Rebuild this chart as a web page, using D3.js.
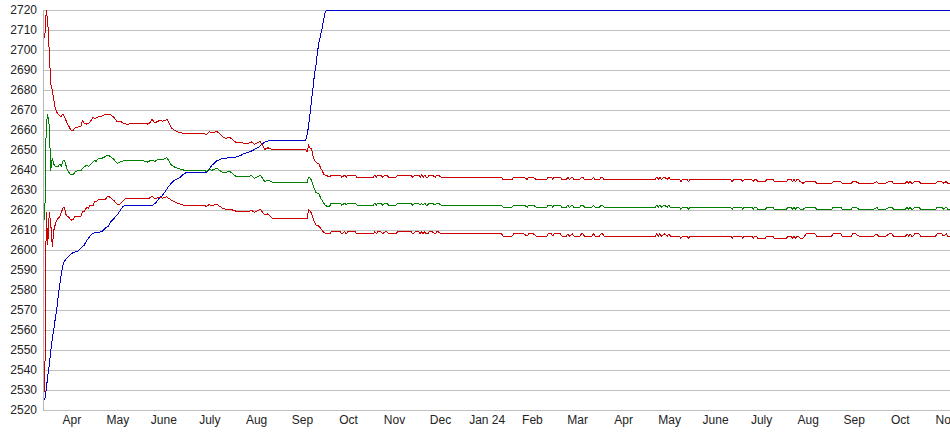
<!DOCTYPE html>
<html>
<head>
<meta charset="utf-8">
<script src="https://cdn.jsdelivr.net/npm/d3@7/dist/d3.min.js"></script>
<style>
  html, body { margin: 0; padding: 0; background: #ffffff; }
  svg { display: block; }
  text { font-family: "Liberation Sans", Arial, sans-serif; font-size: 12px; fill: #222; }
</style>
</head>
<body>
<svg id="chart" width="950" height="435"></svg>
<script>
// ---------------- DATA ----------------
const yTicks = [2520,2530,2540,2550,2560,2570,2580,2590,2600,2610,2620,2630,2640,2650,2660,2670,2680,2690,2700,2710,2720];

const monthStarts = ["2023-04-01","2023-05-01","2023-06-01","2023-07-01","2023-08-01","2023-09-01","2023-10-01","2023-11-01","2023-12-01","2024-01-01",
                     "2024-02-01","2024-03-01","2024-04-01","2024-05-01","2024-06-01","2024-07-01","2024-08-01","2024-09-01","2024-10-01","2024-11-01"];
const monthLabels = ["Apr","May","June","July","Aug","Sep","Oct","Nov","Dec","Jan 24",
                     "Feb","Mar","Apr","May","June","July","Aug","Sep","Oct","Nov"];

const blueDates = [
 "2023-03-29","2023-03-30","2023-03-31","2023-04-01","2023-04-02","2023-04-03","2023-04-04","2023-04-05","2023-04-06","2023-04-07",
 "2023-04-08","2023-04-09","2023-04-10","2023-04-11","2023-04-12","2023-04-14","2023-04-16","2023-04-18","2023-04-20","2023-04-22",
 "2023-04-24","2023-04-26","2023-04-28","2023-04-30","2023-05-02","2023-05-04","2023-05-06","2023-05-08","2023-05-10","2023-05-12",
 "2023-05-14","2023-05-16","2023-05-18","2023-05-20","2023-05-22","2023-06-09","2023-06-10","2023-06-11","2023-06-13","2023-06-15",
 "2023-06-17","2023-06-19","2023-06-21","2023-06-23","2023-06-25","2023-06-27","2023-06-29","2023-07-01","2023-07-14","2023-07-16",
 "2023-07-18","2023-07-21","2023-07-23","2023-07-25","2023-07-27","2023-07-30","2023-08-03","2023-08-06","2023-08-08","2023-08-11",
 "2023-08-13","2023-08-15","2023-08-18","2023-08-20","2023-08-22","2023-08-24","2023-09-18","2023-09-19","2023-09-20","2023-09-21",
 "2023-09-22","2023-09-23","2023-09-24","2023-09-25","2023-09-26","2023-09-27","2023-09-28","2023-09-29","2023-09-30","2023-10-01",
 "2023-10-02","2024-11-23"];
const blueValues = [
 2525.2,2530.5,2537.5,2542.5,2550,2556,2560.5,2566,2570.5,2577.5,
 2583,2588.5,2592.5,2594.4,2595.5,2597,2598.5,2599.2,2599.5,2601.2,
 2602.4,2605,2607.1,2608.5,2609,2609,2609.5,2611,2611.9,2614.5,
 2616,2617.6,2619.8,2622,2622.6,2622.6,2623.4,2624,2626,2627.4,
 2629.5,2631.8,2633.5,2635,2635.7,2636.6,2638,2638.9,2638.9,2640.5,
 2642.5,2644.6,2645.3,2646,2646,2646.3,2646.6,2647.3,2648.3,2649,
 2649.5,2650.3,2651.6,2653,2654,2654.6,2654.6,2657.5,2662,2668.4,
 2675,2681.4,2688.5,2693,2699.5,2704.2,2707.5,2711,2715,2719,
 2720,2720];

const bandDates = [
 "2023-03-29","2023-03-30","2023-03-31","2023-04-01","2023-04-02","2023-04-03","2023-04-04","2023-04-05","2023-04-06","2023-04-07",
 "2023-04-08","2023-04-09","2023-04-10","2023-04-11","2023-04-12","2023-04-13","2023-04-14","2023-04-15","2023-04-16","2023-04-17",
 "2023-04-18","2023-04-20","2023-04-22","2023-04-23","2023-04-24","2023-04-26","2023-04-27","2023-04-28","2023-04-30","2023-05-01",
 "2023-05-02","2023-05-04","2023-05-06","2023-05-08","2023-05-10","2023-05-12","2023-05-14","2023-05-16","2023-05-18","2023-05-20",
 "2023-05-22","2023-06-03","2023-06-05","2023-06-07","2023-06-08","2023-06-10","2023-06-11","2023-06-13","2023-06-15","2023-06-17",
 "2023-06-18","2023-06-19","2023-06-21","2023-06-23","2023-06-25","2023-06-27","2023-06-29","2023-07-13","2023-07-14","2023-07-16",
 "2023-07-18","2023-07-21","2023-07-23","2023-07-25","2023-07-27","2023-07-30","2023-08-03","2023-08-11","2023-08-13","2023-08-15",
 "2023-08-18","2023-08-19","2023-08-22","2023-08-24","2023-08-27","2023-09-18","2023-09-19","2023-09-20","2023-09-21","2023-09-22",
 "2023-09-23","2023-09-24","2023-09-25","2023-09-26","2023-09-27","2023-09-28","2023-09-29","2023-09-30","2023-10-01","2023-10-02",
 "2023-10-04",
 "2023-10-05","2023-10-08","2023-10-11","2023-10-12","2023-10-14","2023-10-15","2023-10-16","2023-10-21","2023-10-22","2023-11-02",
 "2023-11-03","2023-11-04","2023-11-05","2023-11-07","2023-11-08","2023-11-10","2023-11-11","2023-11-12","2023-11-17","2023-11-18",
 "2023-11-22","2023-11-27","2023-11-28","2023-11-30","2023-12-02","2023-12-03","2023-12-04","2023-12-05","2023-12-06","2023-12-07",
 "2023-12-08","2023-12-09","2023-12-11","2023-12-13","2023-12-14","2023-12-15","2023-12-17","2024-01-26","2024-01-27","2024-02-02",
 "2024-02-03","2024-02-10","2024-02-12","2024-02-13","2024-02-16","2024-02-18","2024-02-25","2024-02-26","2024-02-28","2024-02-29",
 "2024-03-01","2024-03-05","2024-03-06","2024-03-09","2024-03-10","2024-03-11","2024-03-13","2024-03-14","2024-03-18","2024-03-19",
 "2024-03-20","2024-03-21","2024-03-26","2024-03-27","2024-03-28","2024-03-31","2024-04-01","2024-04-02","2024-04-03","2024-05-07",
 "2024-05-08","2024-05-09","2024-05-10","2024-05-11","2024-05-13","2024-05-15","2024-05-16","2024-05-17","2024-05-23","2024-05-24",
 "2024-05-25","2024-05-28","2024-05-29","2024-05-30","2024-06-26","2024-06-27","2024-06-28","2024-07-03","2024-07-04","2024-07-05",
 "2024-07-10","2024-07-11","2024-07-12","2024-07-13","2024-07-14","2024-07-19","2024-07-20","2024-07-24","2024-07-25","2024-08-02",
 "2024-08-03","2024-08-05","2024-08-06","2024-08-07","2024-08-08","2024-08-09","2024-08-10","2024-08-11","2024-08-13","2024-08-15",
 "2024-08-21","2024-08-22","2024-09-01","2024-09-02","2024-09-07","2024-09-08","2024-09-14","2024-09-15","2024-09-17","2024-09-19",
 "2024-09-29","2024-10-01","2024-10-02","2024-10-07","2024-10-09","2024-10-11","2024-10-12","2024-10-20","2024-10-21","2024-10-22",
 "2024-10-23","2024-10-24","2024-10-25","2024-10-26","2024-10-29","2024-10-30","2024-11-09","2024-11-10","2024-11-13","2024-11-14",
 "2024-11-16","2024-11-17","2024-11-23"];

const upperValues = [
 2706,2720,2714,2699,2683,2680,2675,2671,2669,2668,
 2667,2667,2668,2667,2665,2663,2662,2660.5,2659.5,2660,
 2661,2661.5,2662,2665,2663.5,2663,2663.5,2664,2666.5,2666,
 2666,2667,2667,2668,2668,2667.5,2666.3,2664.3,2664.5,2663.5,
 2663,2663.5,2663,2663.8,2665.5,2663.7,2664,2664.8,2664.5,2664.8,
 2665.4,2664.5,2661,2660,2659.2,2658.8,2658.4,2658.4,2657.6,2659.2,
 2658.6,2659.4,2658.4,2656.7,2656,2656.2,2653.8,2653.4,2654.2,2653,
 2654,2654.3,2650.4,2651.2,2650.4,2650.4,2649,2652.6,2651,2651,
 2646.7,2645,2644,2643.5,2643,2641,2640,2638,2637.5,2637.3,
 2636.6,
 2637.6,2637.6,2637.6,2636.5,2637.6,2636.5,2637.6,2637.6,2636.5,2636.5,
 2637.6,2636.5,2637.6,2637.6,2636.5,2637.6,2637.6,2636.5,2636.5,2637.6,
 2637.6,2637.6,2636.5,2637.6,2637.6,2636.5,2637.6,2636.5,2637.6,2636.5,
 2636.5,2637.6,2637.6,2636.5,2637.6,2637.6,2636.5,2636.5,2635.4,2635.4,
 2636.5,2636.5,2635.4,2636.5,2636.5,2635.4,2635.4,2636.5,2636.5,2635.4,
 2636.5,2636.5,2635.4,2635.4,2636.5,2635.4,2636.5,2635.4,2635.4,2636.5,
 2636.5,2635.4,2635.4,2636.5,2635.4,2635.4,2636.5,2636.5,2635.4,2635.4,
 2636.5,2635.4,2636.5,2635.4,2636.5,2635.4,2636.5,2635.4,2635.4,2634.3,
 2635.4,2635.4,2634.3,2635.4,2635.4,2634.3,2635.4,2635.4,2634.3,2635.4,
 2635.4,2634.3,2635.4,2635.4,2634.3,2634.3,2635.4,2635.4,2634.3,2634.3,
 2635.4,2635.4,2634.3,2635.4,2634.3,2635.4,2635.4,2634.3,2633.5,2634.3,
 2634.3,2633.5,2633.5,2634.3,2634.3,2633.5,2633.5,2634.3,2634.3,2633.5,
 2633.5,2634.3,2633.5,2633.5,2634.3,2634.3,2633.5,2633.5,2634.3,2633.5,
 2634.3,2633.5,2633.5,2634.3,2634.3,2633.5,2633.5,2634.3,2634.3,2633.5,
 2634.3,2633.5,2633.5];

const middleValues = [
 2615,2664,2667.6,2662,2640,2646,2643,2641.7,2642,2642,
 2643,2641.7,2644.5,2645,2642.6,2640,2639,2638,2637.6,2638,
 2639,2639.8,2639.8,2641,2641.5,2642.6,2642,2642.5,2644.2,2645,
 2644.4,2646,2646,2646.7,2647.6,2646.5,2645.3,2643.4,2644.2,2644.6,
 2644.6,2644.6,2644,2644.8,2645,2644.4,2644.8,2645.6,2645.2,2645.8,
 2646.4,2645,2642.6,2641.6,2641,2640.5,2640.1,2640.1,2639.3,2640.4,
 2640,2641,2640,2638.8,2639,2639.3,2636.8,2636.8,2637.4,2636,
 2637,2637.6,2634.3,2635,2634,2634,2633.5,2636.5,2636,2635,
 2632.6,2630.4,2628.8,2628.5,2628.2,2626,2625,2623.5,2622.6,2622.1,
 2622.1,
 2623.5,2623.5,2623.5,2622.6,2623.5,2622.6,2623.5,2623.5,2622.6,2622.6,
 2623.5,2622.6,2623.5,2623.5,2622.6,2623.5,2623.5,2622.6,2622.6,2623.5,
 2623.5,2623.5,2622.6,2623.5,2623.5,2622.6,2623.5,2622.6,2623.5,2622.6,
 2622.6,2623.5,2623.5,2622.6,2623.5,2623.5,2622.6,2622.6,2621.5,2621.5,
 2622.6,2622.6,2621.5,2622.6,2622.6,2621.5,2621.5,2622.6,2622.6,2621.5,
 2622.6,2622.6,2621.5,2621.5,2622.6,2621.5,2622.6,2621.5,2621.5,2622.6,
 2622.6,2621.5,2621.5,2622.6,2621.5,2621.5,2622.6,2622.6,2621.5,2621.5,
 2622.6,2621.5,2622.6,2621.5,2622.6,2621.5,2622.6,2621.5,2621.5,2620.5,
 2621.5,2621.5,2620.5,2621.5,2621.5,2620.5,2621.5,2621.5,2620.5,2621.5,
 2621.5,2620.5,2621.5,2621.5,2620.5,2620.5,2621.5,2621.5,2620.5,2620.5,
 2621.5,2621.5,2620.5,2621.5,2620.5,2621.5,2621.5,2620.5,2620.5,2621.5,
 2621.5,2620.5,2620.5,2621.5,2621.5,2620.5,2620.5,2621.5,2621.5,2620.5,
 2620.5,2621.5,2620.5,2620.5,2621.5,2621.5,2620.5,2620.5,2621.5,2620.5,
 2621.5,2620.5,2620.5,2621.5,2621.5,2620.5,2620.5,2621.5,2621.5,2620.5,
 2621.5,2620.5,2620.5];

const lowerValues = [
 2529,2619,2603,2619,2613,2602,2610,2613,2615,2616,
 2617,2619,2621,2621.5,2618,2617,2616.5,2615.5,2615,2615.5,
 2616.8,2616.8,2617,2619.3,2619.3,2621.5,2620.8,2622.6,2622.3,2624.3,
 2624.3,2625.5,2625.5,2625.3,2627.1,2626,2624.8,2623,2623.1,2624.8,
 2626,2626,2625.6,2626.3,2627.1,2625.6,2626,2626.5,2626,2626.4,
 2626.8,2626,2625.1,2624.3,2623.5,2623,2622.6,2622.6,2621.8,2622.8,
 2622.3,2623,2622,2621,2620.5,2620.5,2619.5,2619.3,2620,2619,
 2620,2620.5,2617.6,2618.2,2616,2616,2615.5,2620.5,2619.5,2618.5,
 2616,2614,2612.5,2612.3,2612,2611,2610,2609,2608.5,2608.2,
 2608.2,
 2609.3,2609.3,2609.3,2608.2,2609.3,2608.2,2609.3,2609.3,2608.2,2608.2,
 2609.3,2608.2,2609.3,2609.3,2608.2,2609.3,2609.3,2608.2,2608.2,2609.3,
 2609.3,2609.3,2608.2,2609.3,2609.3,2608.2,2609.3,2608.2,2609.3,2608.2,
 2608.2,2609.3,2609.3,2608.2,2609.3,2609.3,2608.2,2608.2,2607.1,2607.1,
 2608.2,2608.2,2607.1,2608.2,2608.2,2607.1,2607.1,2608.2,2608.2,2607.1,
 2608.2,2608.2,2607.1,2607.1,2608.2,2607.1,2608.2,2607.1,2607.1,2608.2,
 2608.2,2607.1,2607.1,2608.2,2607.1,2607.1,2608.2,2608.2,2607.1,2607.1,
 2608.2,2607.1,2608.2,2607.1,2608.2,2607.1,2608.2,2607.1,2607.1,2606,
 2607.1,2607.1,2606,2607.1,2607.1,2606,2607.1,2607.1,2606,2607.1,
 2607.1,2606,2607.1,2607.1,2606,2606,2607.1,2607.1,2606,2606,
 2607.1,2607.1,2606,2607.1,2606,2607.1,2607.1,2606,2606,2608.2,
 2608.2,2607.1,2607.1,2608.2,2608.2,2607.1,2607.1,2608.2,2608.2,2607.1,
 2607.1,2608.2,2607.1,2607.1,2608.2,2608.2,2607.1,2607.1,2608.2,2607.1,
 2608.2,2607.1,2607.1,2608.2,2608.2,2607.1,2607.1,2608.2,2608.2,2607.1,
 2608.2,2607.1,2607.1];

// ---------------- CHART ----------------
const W = 950, H = 435;
const plot = { left: 44, right: 950, top: 10, bottom: 410.5 };
const parse = d3.utcParse("%Y-%m-%d");

const x = d3.scaleUtc()
  .domain([new Date(Date.UTC(2023, 2, 28, 12)), new Date(Date.UTC(2024, 10, 18, 12))])
  .range([plot.left, plot.right]);
const y = d3.scaleLinear().domain([2520, 2720]).range([plot.bottom, plot.top]);

const svg = d3.select("#chart");
const crisp = v => Math.floor(v) + 0.5;

// gridlines
svg.append("g").selectAll("line").data(yTicks).join("line")
  .attr("x1", plot.left).attr("x2", W)
  .attr("y1", d => crisp(y(d))).attr("y2", d => crisp(y(d)))
  .attr("stroke", "#c0c0c0").attr("stroke-width", 1);

// left axis line
svg.append("line")
  .attr("x1", plot.left - 0.5).attr("x2", plot.left - 0.5)
  .attr("y1", crisp(y(2720)) - 0.5).attr("y2", crisp(y(2520)) + 0.5)
  .attr("stroke", "#b8b8b8").attr("stroke-width", 1);

// y labels
svg.append("g").selectAll("text").data(yTicks).join("text")
  .attr("x", 37).attr("y", d => y(d)).attr("dy", "0.3em")
  .attr("text-anchor", "end").text(d => d);

// x labels centered in each month
svg.append("g").selectAll("text").data(monthStarts).join("text")
  .attr("x", (d) => { const s = parse(d); const e = d3.utcMonth.offset(s, 1); return (x(s) + x(e)) / 2; })
  .attr("y", 424)
  .attr("text-anchor", "middle")
  .text((d, i) => monthLabels[i]);

// clip
svg.append("defs").append("clipPath").attr("id", "plotclip")
  .append("rect").attr("x", plot.left).attr("y", 6).attr("width", W - plot.left).attr("height", 408);

const line = d3.line().x(d => x(d[0])).y(d => y(d[1]));
const g = svg.append("g").attr("clip-path", "url(#plotclip)");

function addSeries(dates, values, color) {
  const pts = dates.map((d, i) => [parse(d), values[i]]);
  g.append("path").datum(pts)
    .attr("d", line)
    .attr("fill", "none")
    .attr("stroke", color)
    .attr("stroke-width", 1)
    .attr("shape-rendering", "crispEdges")
    .attr("stroke-linejoin", "round");
}

addSeries(blueDates, blueValues, "#0000cc");
addSeries(bandDates, lowerValues, "#cc0000");
addSeries(bandDates, middleValues, "#007f00");
addSeries(bandDates, upperValues, "#cc0000");
</script>
</body>
</html>
